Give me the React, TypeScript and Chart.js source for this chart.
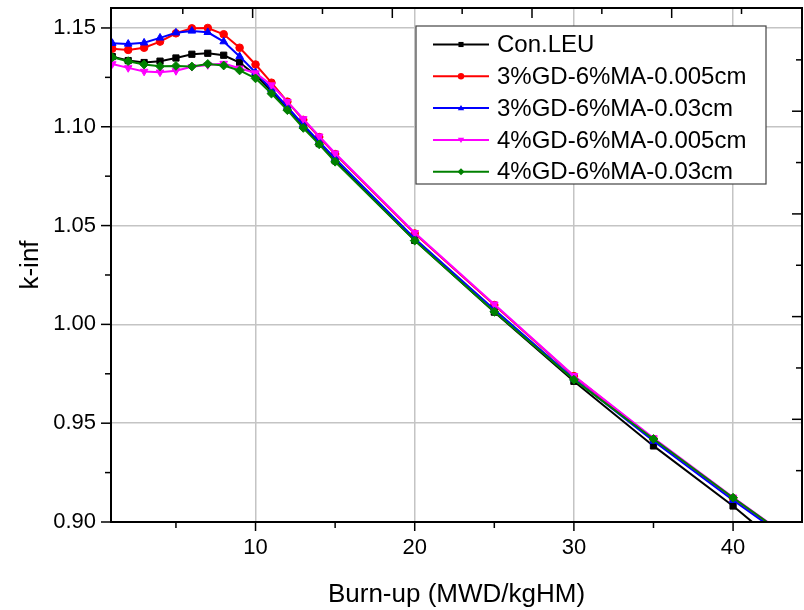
import React, { useEffect, useRef } from 'react';
import { Chart, registerables } from 'chart.js';

Chart.register(...registerables);

// ---- data ----
const burnup = [1, 2, 3, 4, 5, 6, 7, 8, 9, 10, 11, 12, 13, 14, 15, 20, 25, 30, 35, 40, 45];

const conLEU = [1.1355, 1.1335, 1.1325, 1.1332, 1.1348, 1.1367, 1.1372, 1.1362, 1.1325, 1.1262, 1.118, 1.1095, 1.1005, 1.0915, 1.0828, 1.0425, 1.0062, 0.9712, 0.9385, 0.9081, 0.8745];
const gd3_005 = [1.1395, 1.1389, 1.1400, 1.1431, 1.1473, 1.1498, 1.1500, 1.1468, 1.1400, 1.1315, 1.1223, 1.1127, 1.1035, 1.0948, 1.0862, 1.0460, 1.0098, 0.9738, 0.9420, 0.9120, 0.8835];
const gd3_03 = [1.1423, 1.1419, 1.1425, 1.1450, 1.1476, 1.1485, 1.1478, 1.1431, 1.1356, 1.1275, 1.1190, 1.1100, 1.1010, 1.0925, 1.0840, 1.0435, 1.0075, 0.9725, 0.9410, 0.9110, 0.8825];
const gd4_005 = [1.1318, 1.1298, 1.1280, 1.1276, 1.1283, 1.1304, 1.1313, 1.1320, 1.1296, 1.1272, 1.1211, 1.1127, 1.1040, 1.0952, 1.0866, 1.0464, 1.0102, 0.9740, 0.9425, 0.9125, 0.8837];
const gd4_03 = [1.1352, 1.1332, 1.1315, 1.1306, 1.1308, 1.1305, 1.1318, 1.1310, 1.1285, 1.1245, 1.1168, 1.1084, 1.0994, 1.0911, 1.0823, 1.0424, 1.0064, 0.9720, 0.9420, 0.9123, 0.8835];

const seriesNames = ['Con.LEU', '3%GD-6%MA-0.005cm', '3%GD-6%MA-0.03cm', '4%GD-6%MA-0.005cm', '4%GD-6%MA-0.03cm'];
const seriesValues = [conLEU, gd3_005, gd3_03, gd4_005, gd4_03];
const seriesColors = ['#000000', '#ff0000', '#0000ff', '#ff00ff', '#008000'];
const seriesShapes = ['rect', 'circle', 'triangle', 'triangle', 'rectRot'];
const seriesRotations = [0, 0, 0, 180, 0];

const xMajorTicks = [10, 20, 30, 40];
const xMinorTicks = [5, 15, 25, 35];
const yMajorTicks = [0.9, 0.95, 1.0, 1.05, 1.1, 1.15];
const yMinorTicks = [0.925, 0.975, 1.025, 1.075, 1.125];

// opposite (top / right) frame axes of the original plot
const topAxisRange = [-0.14, 49.33];
const rightAxisRange = [0, 5.005];

const FONT = "'Liberation Sans', Arial, Helvetica, sans-serif";

function marker(ctx: CanvasRenderingContext2D, shape: string, rot: number, x: number, y: number, r: number) {
  ctx.beginPath();
  if (shape === 'circle') {
    ctx.arc(x, y, r, 0, Math.PI * 2);
  } else if (shape === 'rect') {
    ctx.rect(x - r * 0.8, y - r * 0.8, r * 1.6, r * 1.6);
  } else if (shape === 'rectRot') {
    ctx.moveTo(x, y - r * 1.1);
    ctx.lineTo(x + r * 1.1, y);
    ctx.lineTo(x, y + r * 1.1);
    ctx.lineTo(x - r * 1.1, y);
    ctx.closePath();
  } else {
    const s = rot === 180 ? -1 : 1;
    ctx.moveTo(x, y - s * r);
    ctx.lineTo(x + r, y + s * r * 0.7);
    ctx.lineTo(x - r, y + s * r * 0.7);
    ctx.closePath();
  }
  ctx.fill();
}

const framePlugin = {
  id: 'framePlugin',
  afterDatasetsDraw(chart: any) {
    const { ctx, chartArea: a, scales } = chart;
    ctx.save();
    ctx.strokeStyle = '#000';
    ctx.lineWidth = 2;
    ctx.strokeRect(a.left, a.top, a.right - a.left, a.bottom - a.top);
    ctx.lineWidth = 1.5;
    const line = (x1: number, y1: number, x2: number, y2: number) => {
      ctx.beginPath();
      ctx.moveTo(x1, y1);
      ctx.lineTo(x2, y2);
      ctx.stroke();
    };
    xMajorTicks.forEach((v) => { const p = scales.x.getPixelForValue(v); line(p, a.bottom, p, a.bottom + 9); });
    xMinorTicks.forEach((v) => { const p = scales.x.getPixelForValue(v); line(p, a.bottom, p, a.bottom + 6); });
    yMajorTicks.forEach((v) => { const p = scales.y.getPixelForValue(v); line(a.left - 10, p, a.left, p); });
    yMinorTicks.forEach((v) => { const p = scales.y.getPixelForValue(v); line(a.left - 6, p, a.left, p); });
    const w = a.right - a.left, h = a.bottom - a.top;
    for (let v = 5; v < 50; v += 5) {
      const p = a.left + ((v - topAxisRange[0]) / (topAxisRange[1] - topAxisRange[0])) * w;
      if (p < a.left + 2 || p > a.right - 2) continue;
      line(p, a.top, p, a.top + (v % 10 === 0 ? 10 : 6));
    }
    for (let v = 0.5; v < 5; v += 0.5) {
      const p = a.bottom - ((v - rightAxisRange[0]) / (rightAxisRange[1] - rightAxisRange[0])) * h;
      if (p < a.top + 2 || p > a.bottom - 2) continue;
      line(a.right - (Math.abs(v - Math.round(v)) < 1e-6 ? 10 : 6), p, a.right, p);
    }
    ctx.restore();
  },
  afterDraw(chart: any) {
    const { ctx } = chart;
    ctx.save();
    const bx = 416, by = 26, bw = 350, bh = 158;
    ctx.fillStyle = '#fff';
    ctx.fillRect(bx, by, bw, bh);
    ctx.strokeStyle = '#444';
    ctx.lineWidth = 1.2;
    ctx.strokeRect(bx, by, bw, bh);
    ctx.font = `24px ${FONT}`;
    ctx.textBaseline = 'middle';
    ctx.textAlign = 'left';
    seriesNames.forEach((name, i) => {
      const y = 44.5 + i * 31.8;
      ctx.strokeStyle = seriesColors[i];
      ctx.fillStyle = seriesColors[i];
      ctx.lineWidth = 2;
      ctx.beginPath();
      ctx.moveTo(433, y);
      ctx.lineTo(489, y);
      ctx.stroke();
      marker(ctx, seriesShapes[i], seriesRotations[i], 461, y, 3.2);
      ctx.fillStyle = '#000';
      ctx.fillText(name, 497, y + 1);
    });
    ctx.restore();
  },
};

export default function App() {
  const ref = useRef<HTMLCanvasElement>(null);
  useEffect(() => {
    if (!ref.current) return;
    const datasets = seriesNames.map((name, i) => ({
      label: name,
      data: burnup.map((x, j) => ({ x, y: seriesValues[i][j] })),
      borderColor: seriesColors[i],
      backgroundColor: seriesColors[i],
      borderWidth: 2,
      pointStyle: seriesShapes[i] as any,
      pointRotation: seriesRotations[i],
      pointRadius: seriesShapes[i] === 'circle' ? 3.8 : 4.4,
      pointBorderWidth: 1,
      tension: 0,
      order: seriesNames.length - 1 - i,
    }));
    const chart = new Chart(ref.current, {
      type: 'line',
      data: { datasets },
      options: {
        responsive: false,
        animation: false,
        devicePixelRatio: 1,
        layout: { autoPadding: false, padding: { top: 8, right: 2, left: 0, bottom: 0 } },
        plugins: { legend: { display: false }, tooltip: { enabled: false } },
        scales: {
          x: {
            type: 'linear',
            min: 0.92,
            max: 44.33,
            afterBuildTicks: (s: any) => {
              s.ticks = [...xMinorTicks, ...xMajorTicks].sort((p, q) => p - q).map((v) => ({ value: v }));
            },
            afterFit: (s: any) => {
              s.height = 88;
              s.paddingLeft = 0;
              s.paddingRight = 0;
            },
            ticks: {
              autoSkip: false,
              maxRotation: 0,
              padding: 13,
              color: '#000',
              font: { family: FONT, size: 22 },
              callback: (v: any) => (xMajorTicks.includes(v) ? String(v) : ''),
            },
            grid: {
              drawTicks: false,
              lineWidth: 1.5,
              color: (c: any) => (c.tick && xMajorTicks.includes(c.tick.value) ? '#c4c4c4' : 'rgba(0,0,0,0)'),
            },
            border: { display: false },
            title: {
              display: true,
              text: 'Burn-up (MWD/kgHM)',
              color: '#000',
              font: { family: FONT, size: 26 },
              padding: { top: 10, bottom: 0 },
            },
          },
          y: {
            type: 'linear',
            min: 0.9,
            max: 1.1601,
            afterBuildTicks: (s: any) => {
              s.ticks = [...yMajorTicks, ...yMinorTicks].sort((p, q) => p - q).map((v) => ({ value: v }));
            },
            afterFit: (s: any) => {
              s.width = 111;
              s.paddingTop = 0;
              s.paddingBottom = 0;
            },
            ticks: {
              autoSkip: false,
              padding: 15,
              color: '#000',
              font: { family: FONT, size: 22 },
              callback: (v: any) => (yMajorTicks.some((m) => Math.abs(m - v) < 1e-6) ? Number(v).toFixed(2) : ''),
            },
            grid: {
              drawTicks: false,
              lineWidth: 1.5,
              color: (c: any) => (c.tick && yMajorTicks.some((m) => Math.abs(m - c.tick.value) < 1e-6) ? '#c4c4c4' : 'rgba(0,0,0,0)'),
            },
            border: { display: false },
            title: {
              display: true,
              text: 'k-inf',
              color: '#000',
              font: { family: FONT, size: 26 },
              padding: { top: 15, bottom: 0 },
            },
          },
        },
      },
      plugins: [framePlugin],
    });
    return () => chart.destroy();
  }, []);
  return (
    <div style={{ position: 'fixed', left: 0, top: 0, width: 804, height: 610, background: '#fff' }}>
      <canvas ref={ref} width={804} height={610} style={{ width: 804, height: 610, display: 'block' }} />
    </div>
  );
}
